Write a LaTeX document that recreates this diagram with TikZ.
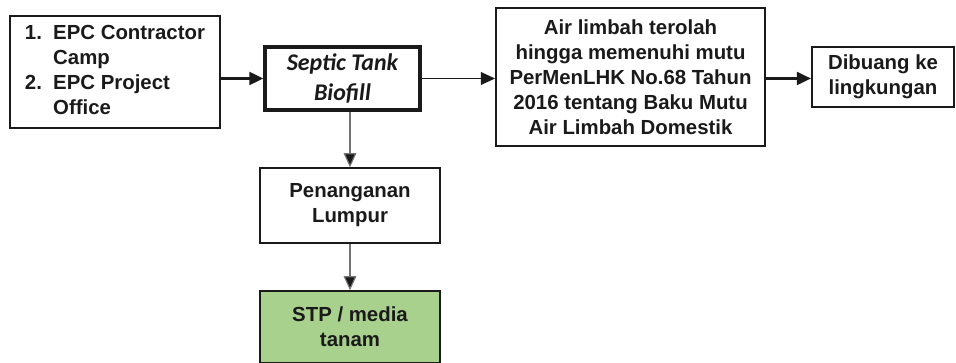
\documentclass[tikz,border=0pt]{standalone}
\usepackage{fontspec}
\setmainfont{Liberation Sans}
\newfontfamily\calibri{Carlito}
\usetikzlibrary{arrows.meta}
\definecolor{ink}{HTML}{1A1A1A}
\definecolor{tanam}{HTML}{A9D18E}
\tikzset{
  box/.style = {draw=ink, line width=1.4pt, text=ink, inner sep=2pt, align=center,
                font=\fontsize{14.5}{17.8}\selectfont\bfseries},
  thickbox/.style = {box, line width=2.2pt},
  thinbox/.style = {box, line width=1.1pt},
  flow/.style = {draw=ink, line width=2pt, -{Triangle[length=10pt,width=9pt]}},
  thinflow/.style = {draw=ink, line width=1pt, -{Triangle[length=10pt,width=9pt]}},
  downflow/.style = {draw=black!55, line width=0.8pt, -{Triangle[length=10pt,width=9pt,fill=ink]}}
}
\begin{document}
\begin{tikzpicture}
\useasboundingbox (0,0) rectangle (23.9,9.075);
\node[box, minimum width=5.25cm, minimum height=2.8cm] (src) at (2.875,7.275)
  {\begin{tabular}{@{}l@{\hspace{8pt}}l@{}}
   1. & EPC Contractor\\ & Camp\\ 2. & EPC Project\\ & Office
   \end{tabular}};
\node[thickbox, minimum width=3.875cm, minimum height=1.575cm,
      font=\calibri\bfseries\itshape\fontsize{17}{21}\selectfont] (septic) at (8.5625,7.1125)
  {Septic Tank\\ Biofill};
\node[box, minimum width=6.725cm, minimum height=3.45cm] (baku) at (15.7625,7.15)
  {Air limbah terolah\\ hingga memenuhi mutu\\ PerMenLHK No.68 Tahun\\ 2016 tentang Baku Mutu\\ Air Limbah Domestik};
\node[box, minimum width=3.55cm, minimum height=1.5cm] (buang) at (22.075,7.15)
  {Dibuang ke\\ lingkungan};
\node[thinbox, minimum width=4.5cm, minimum height=1.875cm] (lumpur) at (8.75,3.9375)
  {Penanganan\\ Lumpur};
\node[thinbox, fill=tanam, minimum width=4.5cm, minimum height=1.8cm] (stp) at (8.75,0.9)
  {STP / media\\ tanam};
% connectors
\draw[flow] (src.east |- septic) -- (septic);
\draw[thinflow] (septic) -- (baku.west |- septic);
\draw[flow] (baku.east |- septic) -- (buang.west |- septic);
\draw[downflow] (septic.south -| lumpur) -- (lumpur);
\draw[downflow] (lumpur) -- (stp);
\end{tikzpicture}
\end{document}
